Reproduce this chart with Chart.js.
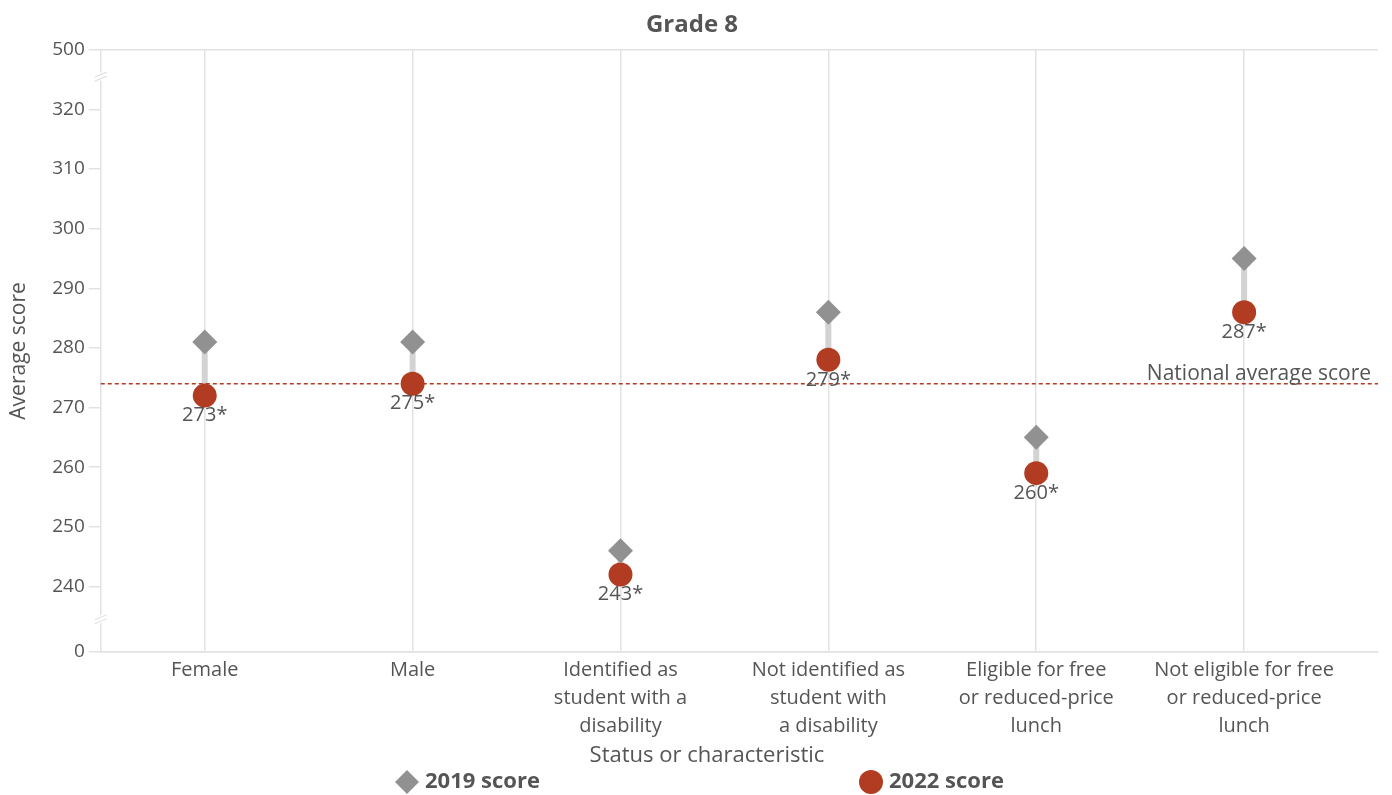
<!DOCTYPE html>
<html>
<head>
<meta charset="utf-8">
<script src="https://cdn.jsdelivr.net/npm/chart.js@4"></script>
<style>
  html, body { margin: 0; padding: 0; background: #fff; }
  #wrap { width: 1392px; height: 795px; }
</style>
</head>
<body>
<div id="wrap"><canvas id="chart" width="1392" height="795"></canvas></div>
<script>
const categories = [
  "Female",
  "Male",
  ["Identified as", "student with a", "disability"],
  ["Not identified as", "student with", "a disability"],
  ["Eligible for free", "or reduced-price", "lunch"],
  ["Not eligible for free", "or reduced-price", "lunch"],
];
const scores2019 = [281, 281, 246, 286, 265, 295];
const scores2022 = [272, 274, 242, 278, 259, 286];
const labels2022 = ["273*", "275*", "243*", "279*", "260*", "287*"];
const nationalAverage = 274;
const yTicks = [229, 240, 250, 260, 270, 280, 290, 300, 310, 320, 330];
// broken axis: bottom and top ticks stand for 0 and 500
const yTickLabels = { 229: "0", 330: "500" };

const FONT = "'Open Sans', 'Noto Sans', sans-serif";
const TEXT = "#555555";
const GRID = "#e2e2e2";
const RED = "#b23c22";
const GREY = "#919191";

const extras = {
  id: "extras",
  beforeDatasetsDraw(chart) {
    const { ctx, scales: { x, y }, chartArea } = chart;
    // connectors between 2019 and 2022
    ctx.save();
    ctx.strokeStyle = "#d3d3d3";
    ctx.lineWidth = 6;
    scores2019.forEach((v, i) => {
      ctx.beginPath();
      ctx.moveTo(x.getPixelForValue(i), y.getPixelForValue(v));
      ctx.lineTo(x.getPixelForValue(i), y.getPixelForValue(scores2022[i]));
      ctx.stroke();
    });
    // national average
    const ny = y.getPixelForValue(nationalAverage);
    ctx.strokeStyle = RED;
    ctx.lineWidth = 1.5;
    ctx.setLineDash([4, 3]);
    ctx.beginPath();
    ctx.moveTo(chartArea.left, ny);
    ctx.lineTo(chartArea.right, ny);
    ctx.stroke();
    ctx.setLineDash([]);
    ctx.fillStyle = TEXT;
    ctx.font = "21px " + FONT;
    ctx.textAlign = "right";
    ctx.textBaseline = "bottom";
    ctx.fillText("National average score", chartArea.right - 7, ny + 1);
    // axis breaks
    [325.5, 234.5].forEach(v => {
      const by = y.getPixelForValue(v);
      const bx = chartArea.left;
      ctx.strokeStyle = "#fff";
      ctx.lineWidth = 4;
      ctx.beginPath();
      ctx.moveTo(bx, by - 4); ctx.lineTo(bx, by + 4);
      ctx.stroke();
      ctx.strokeStyle = GRID;
      ctx.lineWidth = 1.2;
      [-2, 2].forEach(d => {
        ctx.beginPath();
        ctx.moveTo(bx - 6, by + d + 2.5);
        ctx.lineTo(bx + 6, by + d - 2.5);
        ctx.stroke();
      });
    });
    ctx.restore();
  },
  afterDatasetsDraw(chart) {
    const { ctx } = chart;
    const meta = chart.getDatasetMeta(1);
    ctx.save();
    ctx.fillStyle = TEXT;
    ctx.font = "20px " + FONT;
    ctx.textAlign = "center";
    ctx.textBaseline = "middle";
    meta.data.forEach((pt, i) => {
      ctx.fillText(labels2022[i], pt.x, pt.y + 20);
    });
    ctx.restore();
  },
  afterDraw(chart) {
    const { ctx } = chart;
    ctx.save();
    // x axis title, drawn slightly left of the plot centre as in the source
    ctx.fillStyle = TEXT;
    ctx.font = "22px " + FONT;
    ctx.textAlign = "center";
    ctx.textBaseline = "middle";
    ctx.fillText("Status or characteristic", 707, 756);
    // legend
    const ly = 782;
    ctx.font = "bold 22px " + FONT;
    ctx.textAlign = "left";
    ctx.fillStyle = GREY;
    ctx.beginPath();
    ctx.moveTo(407, ly - 12); ctx.lineTo(419, ly); ctx.lineTo(407, ly + 12); ctx.lineTo(395, ly);
    ctx.closePath();
    ctx.fill();
    ctx.fillStyle = TEXT;
    ctx.fillText("2019 score", 425, ly);
    ctx.fillStyle = RED;
    ctx.beginPath();
    ctx.arc(871, ly, 12, 0, Math.PI * 2);
    ctx.fill();
    ctx.fillStyle = TEXT;
    ctx.fillText("2022 score", 889, ly);
    ctx.restore();
  }
};

new Chart(document.getElementById("chart"), {
  type: "line",
  data: {
    datasets: [
      {
        label: "2019 score",
        data: scores2019.map((v, i) => ({ x: i, y: v })),
        showLine: false,
        pointStyle: "rectRot",
        pointRadius: 12.5,
        pointHoverRadius: 12.5,
        backgroundColor: GREY,
        borderColor: GREY,
        borderWidth: 0,
      },
      {
        label: "2022 score",
        data: scores2022.map((v, i) => ({ x: i, y: v })),
        showLine: false,
        pointStyle: "circle",
        pointRadius: 12,
        pointHoverRadius: 12,
        backgroundColor: RED,
        borderColor: RED,
        borderWidth: 0,
      },
    ],
  },
  options: {
    responsive: false,
    animation: false,
    layout: { padding: { top: 1, right: 14, bottom: 51, left: 6 } },
    plugins: {
      legend: { display: false },
      tooltip: { enabled: false },
      title: {
        display: true,
        text: "Grade 8",
        color: TEXT,
        font: { family: FONT, size: 24, weight: "bold" },
        padding: { top: 10, bottom: 10 },
      },
    },
    scales: {
      x: {
        type: "linear",
        min: -0.5,
        max: 5.644,
        afterBuildTicks: axis => { axis.ticks = categories.map((c, i) => ({ value: i })); },
        ticks: {
          color: TEXT,
          font: { family: FONT, size: 20, lineHeight: 1.4 },
          padding: 4,
          maxRotation: 0,
          autoSkip: false,
          callback: v => categories[v],
        },
        grid: { color: GRID, drawTicks: false, lineWidth: 1.5 },
        border: { color: GRID, width: 1.5 },
      },
      y: {
        type: "linear",
        min: 229,
        max: 330,
        afterBuildTicks: axis => { axis.ticks = yTicks.map(v => ({ value: v })); },
        ticks: {
          color: TEXT,
          font: { family: FONT, size: 19 },
          padding: 4,
          callback: v => yTickLabels[v] !== undefined ? yTickLabels[v] : String(v),
        },
        grid: {
          color: c => (c.tick && (c.tick.value === 229 || c.tick.value === 330)) ? GRID : "rgba(0,0,0,0)",
          tickColor: GRID,
          tickLength: 12,
          lineWidth: 1.5,
        },
        border: { color: GRID, width: 1.5 },
        title: {
          display: true,
          text: "Average score",
          color: TEXT,
          font: { family: FONT, size: 21 },
          padding: { top: 0, bottom: 17 },
        },
      },
    },
  },
  plugins: [extras],
});
</script>
</body>
</html>
